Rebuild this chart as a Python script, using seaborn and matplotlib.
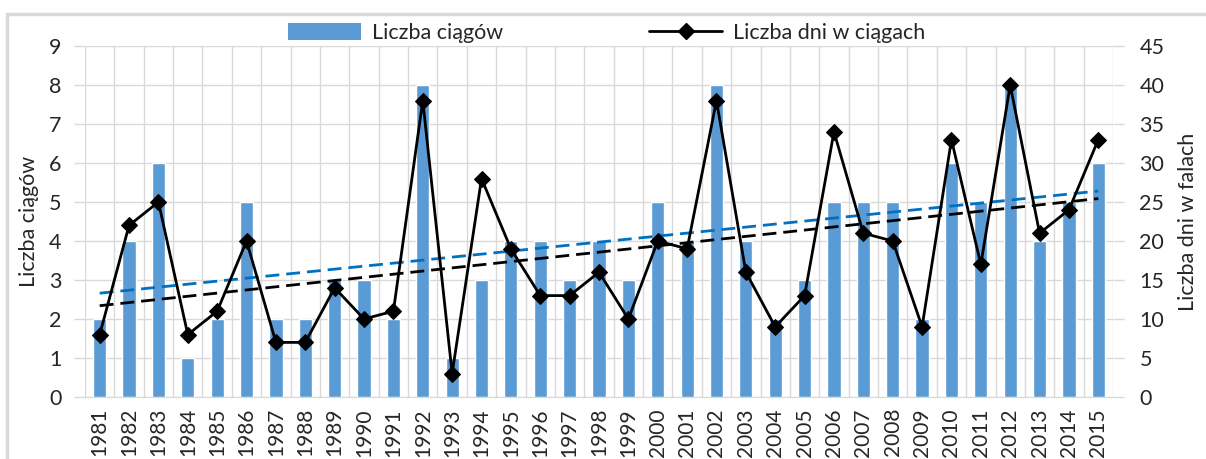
import numpy as np
import pandas as pd
import matplotlib
matplotlib.use("Agg")
import matplotlib.pyplot as plt
import seaborn as sns
from matplotlib.lines import Line2D
from matplotlib.patches import Patch

# dane
lata = list(range(1981, 2016))
liczba_ciagow = [2, 4, 6, 1, 2, 5, 2, 2, 3, 3, 2, 8, 1, 3, 4, 4, 3, 4, 3, 5,
                 4, 8, 4, 2, 3, 5, 5, 5, 2, 6, 5, 8, 4, 5, 6]
liczba_dni = [8, 22, 25, 8, 11, 20, 7, 7, 14, 10, 11, 38, 3, 28, 19, 13, 13, 16, 10, 20,
              19, 38, 16, 9, 13, 34, 21, 20, 9, 33, 17, 40, 21, 24, 33]

df = pd.DataFrame({"rok": [str(r) for r in lata],
                   "ciagi": liczba_ciagow,
                   "dni": liczba_dni})
df["poz"] = np.arange(len(df))

sns.set_style("white")
plt.rcParams["font.family"] = ["Lato", "DejaVu Sans"]

grid_col = "#D9D9D9"
bar_col = "#5B9BD5"

fig = plt.figure(figsize=(12.06, 4.59), dpi=100)
ax = fig.add_axes([85 / 1206, 1 - 397 / 459, (1113 - 85) / 1206, (397 - 46) / 459])

sns.barplot(data=df, x="rok", y="ciagi", color=bar_col, width=0.45,
            saturation=1, ax=ax, zorder=2)

# trend liczby ciagow
a, b = np.polyfit(df["poz"], df["ciagi"], 1)
ax.plot(df["poz"], a * df["poz"] + b, color="#0070C0", lw=2, ls=(0, (5, 2.5)), zorder=3)

ax.set_xlim(-0.5, len(df) - 0.5)
ax.set_ylim(0, 9)
ax.set_yticks(range(0, 10))
ax.set_xticks(np.arange(len(df) + 1) - 0.5, minor=True)
ax.grid(True, which="minor", axis="x", color=grid_col, lw=1)
ax.grid(True, which="major", axis="y", color=grid_col, lw=1)
ax.set_axisbelow(True)
ax.tick_params(axis="x", which="major", length=0, rotation=90, labelsize=15, pad=8)
ax.tick_params(axis="x", which="minor", length=8, color=grid_col, width=1)
ax.tick_params(axis="y", length=8, color=grid_col, width=1, labelsize=15.5, pad=9)
for s in ["top", "right", "left"]:
    ax.spines[s].set_visible(False)
ax.spines["bottom"].set_color(grid_col)
ax.set_xlabel("")
ax.set_ylabel("Liczba ciągów", fontsize=15.5, labelpad=7)

# druga os - liczba dni
ax2 = ax.twinx()
sns.lineplot(data=df, x="poz", y="dni", color="black", lw=2, marker="D",
             markersize=8, markeredgecolor="black", ax=ax2, zorder=4)
c, d = np.polyfit(df["poz"], df["dni"], 1)
ax2.plot(df["poz"], c * df["poz"] + d, color="black", lw=2, ls=(0, (5, 2.5)), zorder=3)
ax2.set_ylim(0, 45)
ax2.set_yticks(range(0, 50, 5))
ax2.tick_params(axis="y", length=8, color=grid_col, width=1, labelsize=15.5, pad=11)
for s in ax2.spines.values():
    s.set_visible(False)
ax2.set_xlabel("")
ax2.set_ylabel("Liczba dni w falach", fontsize=15.5, labelpad=10)
ax2.set_xlim(-0.5, len(df) - 0.5)

# legenda
handles = [Patch(facecolor=bar_col, edgecolor="none"),
           Line2D([], [], color="black", lw=2, marker="D", markersize=8)]
fig.legend(handles, ["Liczba ciągów", "Liczba dni w ciągach"], loc="center",
           bbox_to_anchor=(0.503, 1 - 33 / 459), ncol=2, frameon=False,
           fontsize=15.5, handlelength=3.4, handleheight=0.85, columnspacing=6.8,
           handletextpad=0.5)

# ramka wykresu
fig.add_artist(Line2D([7 / 1206, 1], [1 - 14 / 459, 1 - 14 / 459], color=grid_col, lw=2.5))
fig.add_artist(Line2D([7 / 1206, 7 / 1206], [0, 1 - 14 / 459], color=grid_col, lw=2.5))

fig.savefig("out.png", dpi=100)
